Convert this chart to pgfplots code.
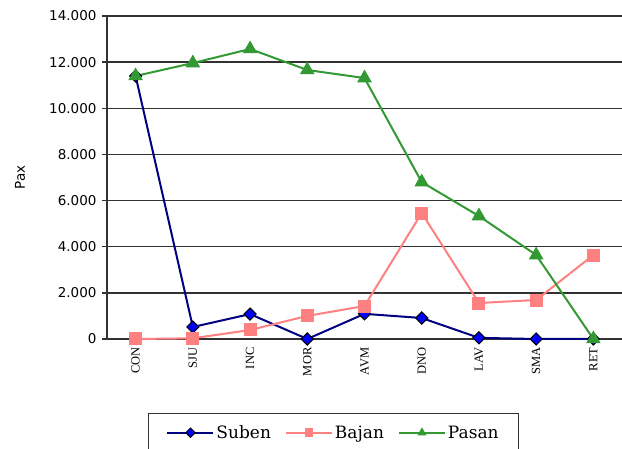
\documentclass[border=0pt]{standalone}
\usepackage{fontspec}
\setmainfont{DejaVu Serif}
\newfontfamily\ysans{DejaVu Sans}
\newfontfamily\xser{Liberation Serif}
\usepackage{pgfplots}
\pgfplotsset{compat=1.18}
\usetikzlibrary{calc}
\definecolor{suben}{RGB}{0,0,128}
\definecolor{subenfill}{RGB}{0,0,255}
\definecolor{bajan}{RGB}{255,128,128}
\definecolor{pasan}{RGB}{51,153,51}
\definecolor{gridc}{RGB}{50,50,50}
\begin{document}
\begin{tikzpicture}
\begin{axis}[
  scale only axis, width=515pt, height=323pt,
  xmin=-0.5, xmax=8.5, ymin=0, ymax=14000,
  axis lines*=left,
  axis line style={gridc, line width=1.4pt},
  xtick={0,...,8},
  xticklabels={CON,SJU,INC,MOR,AVM,DNO,LAV,SMA,RET},
  minor xtick={0.5,1.5,...,7.5},
  x tick style={draw=none},
  minor x tick style={gridc, line width=1pt, yshift=4pt},
  minor tick length=8pt,
  xticklabel style={rotate=90, anchor=east, font=\xser\fontsize{12.5}{14}\selectfont},
  ytick={0,2000,...,14000},
  ymajorgrids,
  major grid style={gridc, line width=1.4pt},
  y tick style={gridc, line width=1.4pt},
  major tick length=5pt,
  tick align=outside,
  scaled y ticks=false,
  yticklabel style={font=\ysans\fontsize{13.5}{15}\selectfont, xshift=-2pt},
  /pgf/number format/.cd, 1000 sep={.}, assume math mode=true,
  /pgfplots/.cd,
  ylabel={Pax},
  ylabel style={at={(axis description cs:-0.169,0.5)}, anchor=center, font=\ysans\fontsize{13.5}{15}\selectfont},
  legend columns=3,
  legend style={at={(axis description cs:0.0796,-0.229)}, anchor=north west,
    draw=gridc, line width=1pt, font=\fontsize{17}{19}\selectfont,
    inner xsep=18pt, inner ysep=10pt,
    /tikz/every even column/.append style={column sep=12pt}},
  legend image code/.code={\draw[#1, mark size=3.3pt, mark repeat=2, mark phase=2] plot coordinates {(0pt,0pt) (23pt,0pt) (46pt,0pt)};},
  legend cell align=left,
  clip=false,
]
\coordinate (SW) at (rel axis cs:0,0);
\addplot[suben, line width=2pt, mark=square*, mark size=4.3pt, mark options={rotate=45, fill=subenfill, draw=black, line width=1pt}]
  coordinates {(0,11400) (1,520) (2,1080) (3,0) (4,1090) (5,910) (6,50) (7,0) (8,0)};
\addlegendentry{Suben}
\addplot[bajan, line width=2pt, mark=square*, mark size=5.5pt, mark options={fill=bajan, draw=bajan}]
  coordinates {(0,0) (1,30) (2,390) (3,1000) (4,1430) (5,5460) (6,1560) (7,1690) (8,3640)};
\addlegendentry{Bajan}
\addplot[pasan, line width=2pt, mark=triangle*, mark size=6.5pt, mark options={fill=pasan, draw=pasan}]
  coordinates {(0,11400) (1,11960) (2,12570) (3,11660) (4,11310) (5,6800) (6,5330) (7,3640) (8,0)};
\addlegendentry{Pasan}
\end{axis}
\pgfresetboundingbox
\useasboundingbox ($(SW)+(-107pt,-110pt)$) rectangle ($(SW)+(515pt,339pt)$);
\end{tikzpicture}
\end{document}
